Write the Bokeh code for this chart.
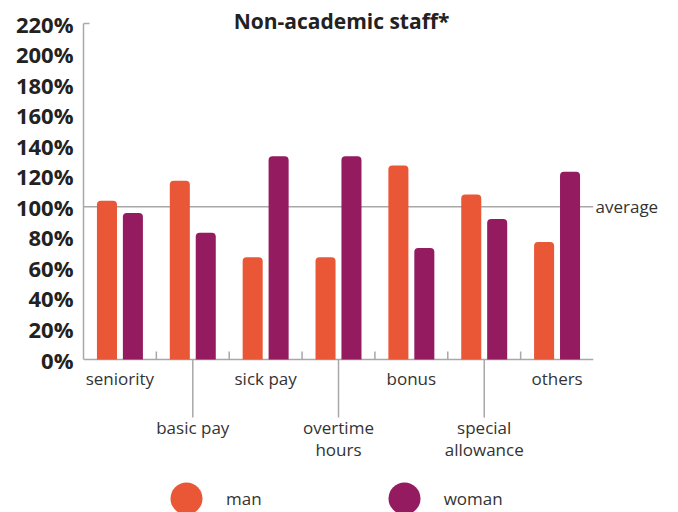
from bokeh.plotting import figure
from bokeh.models import (Range1d, LinearAxis, FixedTicker, PrintfTickFormatter, Span,
                          Legend, LegendItem, ColumnDataSource)
from bokeh.core.properties import value
from bokeh.embed import file_html
from bokeh.resources import INLINE

# ---------------- data ----------------
title = "Non-academic staff*"
categories = ["seniority", "basic pay", "sick pay", "overtime\nhours", "bonus",
              "special\nallowance", "others"]
man = [104, 117, 67, 67, 127, 108, 77]
woman = [96, 83, 133, 133, 73, 92, 123]
y_ticks = [0, 20, 40, 60, 80, 100, 120, 140, 160, 180, 200, 220]
average = 100
average_label = "average"
series_names = ["man", "woman"]

# ---------------- style ----------------
MAN_C = "#E95736"
WOMAN_C = "#941B5F"
AXIS_C = "#a8a8a8"
TEXT_C = "#333333"
DARK_C = "#222222"
FONT = "Open Sans"

W, H = 678, 512
LEFT, RIGHT = 83, 85
ZERO_PX = 359      # frame-top to value 0, px
TOP_PX = 23        # frame-top to top tick, px
px_per_unit = (ZERO_PX - TOP_PX) / y_ticks[-1]
y_end = y_ticks[-1] + TOP_PX / px_per_unit
y_start = -(H - ZERO_PX) / px_per_unit

n = len(categories)
px_per_cat = (W - LEFT - RIGHT) / n
centers = [i + 0.5 for i in range(n)]
BAR_W = 0.275
OFF = 0.178

p = figure(width=W, height=H, x_range=Range1d(0, n), y_range=Range1d(y_start, y_end),
           output_backend="svg", toolbar_location=None, x_axis_location=None,
           y_axis_location="left", min_border_left=LEFT, min_border_right=RIGHT,
           min_border_top=0, min_border_bottom=0, outline_line_color=None)
p.ygrid.visible = False
p.xgrid.visible = False

ya = p.yaxis[0]
ya.ticker = FixedTicker(ticks=y_ticks)
ya.formatter = PrintfTickFormatter(format="%d%%")
ya.bounds = (0, y_ticks[-1])
ya.axis_line_color = AXIS_C
ya.axis_line_width = 1.5
ya.major_tick_line_color = None
ya.major_tick_out = 0
ya.major_tick_in = 0
ya.minor_tick_line_color = None
ya.major_label_text_font = FONT
ya.major_label_text_font_size = "22px"
ya.major_label_text_font_style = "bold"
ya.major_label_text_color = DARK_C
ya.major_label_standoff = 10

ra = LinearAxis(ticker=FixedTicker(ticks=[average]),
                major_label_overrides={average: average_label},
                axis_line_color=None, major_tick_line_color=None,
                major_tick_in=0, major_tick_out=0,
                minor_tick_line_color=None, major_label_standoff=2,
                major_label_text_font=FONT, major_label_text_font_size="17px",
                major_label_text_color=TEXT_C)
p.add_layout(ra, "right")

# average line and x-axis line
p.add_layout(Span(location=average, dimension="width", line_color=AXIS_C,
                  line_width=1.5, level="underlay"))
p.add_layout(Span(location=0, dimension="width", line_color=AXIS_C,
                  line_width=1.5, level="underlay"))

# end cap of the y axis
p.segment(x0=[0], y0=[y_ticks[-1]], x1=[6 / px_per_cat], y1=[y_ticks[-1]],
          line_color=AXIS_C, line_width=1.5)

# short inward ticks at category boundaries
bounds = list(range(1, n))
p.segment(x0=bounds, y0=[0] * len(bounds), x1=bounds,
          y1=[8 / px_per_unit] * len(bounds), line_color=AXIS_C, line_width=1.5)

# long ticks for staggered labels
stag = [c for i, c in enumerate(centers) if i % 2 == 1]
p.segment(x0=stag, y0=[0] * len(stag), x1=stag, y1=[-58 / px_per_unit] * len(stag),
          line_color=AXIS_C, line_width=1.5)

# bars
src = ColumnDataSource(dict(xm=[c - OFF for c in centers], xw=[c + OFF for c in centers],
                            man=man, woman=woman))
p.vbar(x="xm", top="man", width=BAR_W, source=src, fill_color=MAN_C, line_color=None,
       border_radius=[4, 4, 0, 0])
p.vbar(x="xw", top="woman", width=BAR_W, source=src, fill_color=WOMAN_C, line_color=None,
       border_radius=[4, 4, 0, 0])

# category labels
LINE_H = 22
offsets = []
for i, c in enumerate(categories):
    nl = c.count("\n") + 1
    if i % 2 == 0:
        offsets.append(19 + (nl - 1) * LINE_H / 2)
    else:
        offsets.append(68 + (nl - 1) * LINE_H / 2)
lab_src = ColumnDataSource(dict(x=centers, y=[0] * n, text=categories, yo=offsets))
p.text(x="x", y="y", text="text", y_offset="yo", source=lab_src, text_align="center",
       text_baseline="middle", text_font=value(FONT), text_font_size="17px",
       text_color=TEXT_C, text_line_height=0.95)

# title
p.text(x=[n / 2], y=[y_end], text=[title], y_offset=20, x_offset=3, text_align="center",
       text_baseline="middle", text_font=value(FONT), text_font_size="21px",
       text_font_style="bold", text_color=DARK_C)

# legend (invisible zero-size markers on the bar data, used only as legend glyphs)
r_man = p.scatter(x="xm", y="man", source=src, size=0, marker="circle",
                  fill_color=MAN_C, line_color=None)
r_wom = p.scatter(x="xw", y="woman", source=src, size=0, marker="circle",
                  fill_color=WOMAN_C, line_color=None)
legend = Legend(items=[LegendItem(label=series_names[0], renderers=[r_man]),
                       LegendItem(label=series_names[1], renderers=[r_wom])],
                orientation="horizontal", location=(63, -26), glyph_width=80,
                glyph_height=80, label_standoff=0, spacing=102, padding=0, margin=0,
                border_line_color=None, background_fill_alpha=0,
                label_text_font=FONT, label_text_font_size="17px",
                label_text_color=TEXT_C)
p.add_layout(legend)

open("out.html", "w").write(file_html(p, INLINE))
